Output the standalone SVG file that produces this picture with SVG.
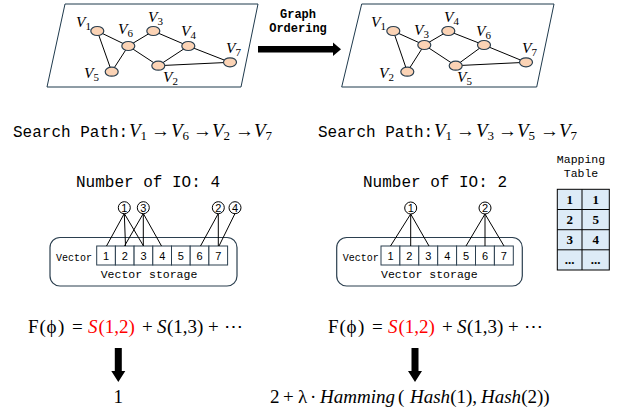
<svg xmlns="http://www.w3.org/2000/svg" width="628" height="419" viewBox="0 0 628 419">
<style>
.plane{fill:#fff;stroke:#1f3a4d;stroke-width:1}
.nd{fill:#fbd3b5;stroke:#2b3f4f;stroke-width:1.2}
.e{stroke:#000;stroke-width:1;fill:none}
.vl{font-family:"Liberation Serif",serif;font-style:italic;font-size:15.5px;fill:#000}
.sub{font-size:11px;font-style:normal}
.mono{font-family:"Liberation Mono","DejaVu Sans Mono",monospace;fill:#000}
.math{font-family:"Liberation Serif","DejaVu Serif",serif;font-size:19px;fill:#000}
.sp{font-family:"Liberation Serif","DejaVu Serif",serif;font-size:19px;fill:#000}
.ss{font-size:13px}
.it{font-style:italic}
.red{fill:#ff0000}
.cell{fill:#fff;stroke:#2b3f4f;stroke-width:1}
.cn{font-family:"Liberation Sans",Arial,sans-serif;font-size:11px;text-anchor:middle;fill:#000}
.circ{fill:#fff;stroke:#000;stroke-width:1}
.box{fill:#fff;stroke:#2b3f4f;stroke-width:1.2}
.tb{fill:#ddebf7;stroke:#000;stroke-width:1}
.tn{font-family:"Liberation Serif",serif;font-weight:bold;font-size:13px;text-anchor:middle;fill:#000}
</style>

<!-- left graph -->
<g id="graph-left">
<polygon class="plane" points="65,4 258,4 241,87 47,87"/>
<g class="e">
<line x1="97.3" y1="31" x2="128.3" y2="46"/>
<line x1="97.3" y1="31" x2="111.7" y2="71.7"/>
<line x1="111.7" y1="71.7" x2="128.3" y2="46"/>
<line x1="128.3" y1="46" x2="153.3" y2="31"/>
<line x1="128.3" y1="46" x2="158.3" y2="65.7"/>
<line x1="153.3" y1="31" x2="188.3" y2="46"/>
<line x1="188.3" y1="46" x2="158.3" y2="65.7"/>
<line x1="188.3" y1="46" x2="230" y2="62.3"/>
<line x1="158.3" y1="65.7" x2="230" y2="62.3"/>
</g>
<ellipse class="nd" cx="97.3" cy="31" rx="6.5" ry="4.5"/>
<ellipse class="nd" cx="128.3" cy="46" rx="6.5" ry="4.5"/>
<ellipse class="nd" cx="153.3" cy="31" rx="6.5" ry="4.5"/>
<ellipse class="nd" cx="188.3" cy="46" rx="6.5" ry="4.5"/>
<ellipse class="nd" cx="230" cy="62.3" rx="6.5" ry="4.5"/>
<ellipse class="nd" cx="158.3" cy="65.7" rx="6.5" ry="4.5"/>
<ellipse class="nd" cx="111.7" cy="71.7" rx="6.5" ry="4.5"/>
<text class="vl" x="76" y="27">V<tspan class="sub" dy="2.5">1</tspan></text>
<text class="vl" x="118" y="34">V<tspan class="sub" dy="2.5">6</tspan></text>
<text class="vl" x="148" y="22">V<tspan class="sub" dy="2.5">3</tspan></text>
<text class="vl" x="181" y="36">V<tspan class="sub" dy="2.5">4</tspan></text>
<text class="vl" x="226" y="53">V<tspan class="sub" dy="2.5">7</tspan></text>
<text class="vl" x="84" y="78">V<tspan class="sub" dy="2.5">5</tspan></text>
<text class="vl" x="163" y="82">V<tspan class="sub" dy="2.5">2</tspan></text>
</g>

<!-- right graph -->
<g id="graph-right">
<polygon class="plane" points="361.7,4 554,4 536.7,87 341.7,87"/>
<g class="e">
<line x1="393.3" y1="31" x2="407.3" y2="71.7"/>
<line x1="393.3" y1="31" x2="424.3" y2="45"/>
<line x1="407.3" y1="71.7" x2="424.3" y2="45"/>
<line x1="424.3" y1="45" x2="448.3" y2="31"/>
<line x1="424.3" y1="45" x2="455.7" y2="65.7"/>
<line x1="448.3" y1="31" x2="484" y2="45"/>
<line x1="484" y1="45" x2="455.7" y2="65.7"/>
<line x1="484" y1="45" x2="526" y2="62.3"/>
<line x1="455.7" y1="65.7" x2="526" y2="62.3"/>
</g>
<ellipse class="nd" cx="393.3" cy="31" rx="6.5" ry="4.5"/>
<ellipse class="nd" cx="424.3" cy="45" rx="6.5" ry="4.5"/>
<ellipse class="nd" cx="448.3" cy="31" rx="6.5" ry="4.5"/>
<ellipse class="nd" cx="484" cy="45" rx="6.5" ry="4.5"/>
<ellipse class="nd" cx="526" cy="62.3" rx="6.5" ry="4.5"/>
<ellipse class="nd" cx="455.7" cy="65.7" rx="6.5" ry="4.5"/>
<ellipse class="nd" cx="407.3" cy="71.7" rx="6.5" ry="4.5"/>
<text class="vl" x="371" y="27">V<tspan class="sub" dy="2.5">1</tspan></text>
<text class="vl" x="414" y="35">V<tspan class="sub" dy="2.5">3</tspan></text>
<text class="vl" x="444" y="22">V<tspan class="sub" dy="2.5">4</tspan></text>
<text class="vl" x="476" y="36">V<tspan class="sub" dy="2.5">6</tspan></text>
<text class="vl" x="522" y="53">V<tspan class="sub" dy="2.5">7</tspan></text>
<text class="vl" x="379" y="78">V<tspan class="sub" dy="2.5">2</tspan></text>
<text class="vl" x="457" y="82">V<tspan class="sub" dy="2.5">5</tspan></text>
</g>

<!-- graph ordering arrow -->
<g id="ordering">
<text class="mono" x="298" y="18" font-size="12" font-weight="bold" text-anchor="middle">Graph</text>
<text class="mono" x="298" y="32" font-size="12" font-weight="bold" text-anchor="middle">Ordering</text>
<rect x="258" y="46" width="76" height="6.5" fill="#000"/>
<polygon points="333,42.5 341,49.3 333,56" fill="#000"/>
</g>

<!-- search paths -->
<g id="path-left">
<text class="mono" x="13" y="137" font-size="16">Search Path:</text>
<text class="sp" y="137"><tspan class="it" x="129">V</tspan><tspan class="ss" dy="3">1</tspan><tspan x="151" dy="-3">→</tspan><tspan class="it" x="171">V</tspan><tspan class="ss" dy="3">6</tspan><tspan x="193" dy="-3">→</tspan><tspan class="it" x="212">V</tspan><tspan class="ss" dy="3">2</tspan><tspan x="235" dy="-3">→</tspan><tspan class="it" x="254">V</tspan><tspan class="ss" dy="3">7</tspan></text>
</g>
<g id="path-right">
<text class="mono" x="318" y="137" font-size="16">Search Path:</text>
<text class="sp" y="137"><tspan class="it" x="434">V</tspan><tspan class="ss" dy="3">1</tspan><tspan x="456" dy="-3">→</tspan><tspan class="it" x="476">V</tspan><tspan class="ss" dy="3">3</tspan><tspan x="498" dy="-3">→</tspan><tspan class="it" x="517">V</tspan><tspan class="ss" dy="3">5</tspan><tspan x="540" dy="-3">→</tspan><tspan class="it" x="559">V</tspan><tspan class="ss" dy="3">7</tspan></text>
</g>

<!-- left storage -->
<g id="storage-left">
<text class="mono" x="148" y="187" font-size="16" text-anchor="middle">Number of IO: 4</text>
<rect class="box" x="50" y="237.5" width="187" height="48.5" rx="10"/>
<text class="mono" x="56" y="261" font-size="10">Vector</text>
<rect class="cell" x="96.7" y="246" width="18.7" height="19"/>
<rect class="cell" x="115.4" y="246" width="18.7" height="19"/>
<rect class="cell" x="134.1" y="246" width="18.7" height="19"/>
<rect class="cell" x="152.8" y="246" width="18.7" height="19"/>
<rect class="cell" x="171.5" y="246" width="18.7" height="19"/>
<rect class="cell" x="190.2" y="246" width="18.7" height="19"/>
<rect class="cell" x="208.9" y="246" width="18.7" height="19"/>
<text class="cn" x="106" y="259.5">1</text>
<text class="cn" x="124.8" y="259.5">2</text>
<text class="cn" x="143.5" y="259.5">3</text>
<text class="cn" x="162.2" y="259.5">4</text>
<text class="cn" x="180.9" y="259.5">5</text>
<text class="cn" x="199.6" y="259.5">6</text>
<text class="cn" x="218.3" y="259.5">7</text>
<text class="mono" x="149" y="277.5" font-size="11.5" text-anchor="middle">Vector storage</text>
<g class="e">
<line x1="124.3" y1="213.5" x2="106.5" y2="246"/>
<line x1="124.3" y1="213.5" x2="125.5" y2="246"/>
<line x1="124.3" y1="213.5" x2="143.5" y2="246"/>
<line x1="143.3" y1="213.5" x2="124.5" y2="246"/>
<line x1="143.3" y1="213.5" x2="143.3" y2="246"/>
<line x1="143.3" y1="213.5" x2="161.5" y2="246"/>
<line x1="218.3" y1="213.5" x2="200.5" y2="246"/>
<line x1="218.3" y1="213.5" x2="218.3" y2="246"/>
<line x1="235" y1="213.5" x2="219" y2="246"/>
</g>
<circle class="circ" cx="124.3" cy="207.7" r="6"/>
<circle class="circ" cx="143.3" cy="207.7" r="6"/>
<circle class="circ" cx="218.3" cy="207.7" r="6"/>
<circle class="circ" cx="235" cy="207.7" r="6"/>
<text class="cn" x="124.3" y="211.5" font-size="10">1</text>
<text class="cn" x="143.3" y="211.5" font-size="10">3</text>
<text class="cn" x="218.3" y="211.5" font-size="10">2</text>
<text class="cn" x="235" y="211.5" font-size="10">4</text>
</g>

<!-- right storage -->
<g id="storage-right">
<text class="mono" x="435" y="187" font-size="16" text-anchor="middle">Number of IO: 2</text>
<rect class="box" x="336.7" y="237.5" width="185.6" height="48.5" rx="10"/>
<text class="mono" x="342.7" y="261" font-size="10">Vector</text>
<rect class="cell" x="381" y="246" width="18.9" height="19"/>
<rect class="cell" x="399.9" y="246" width="18.9" height="19"/>
<rect class="cell" x="418.8" y="246" width="18.9" height="19"/>
<rect class="cell" x="437.7" y="246" width="18.9" height="19"/>
<rect class="cell" x="456.6" y="246" width="18.9" height="19"/>
<rect class="cell" x="475.5" y="246" width="18.9" height="19"/>
<rect class="cell" x="494.4" y="246" width="18.9" height="19"/>
<text class="cn" x="390.5" y="259.5">1</text>
<text class="cn" x="409.4" y="259.5">2</text>
<text class="cn" x="428.3" y="259.5">3</text>
<text class="cn" x="447.2" y="259.5">4</text>
<text class="cn" x="466.1" y="259.5">5</text>
<text class="cn" x="485" y="259.5">6</text>
<text class="cn" x="503.9" y="259.5">7</text>
<text class="mono" x="429.3" y="277.5" font-size="11.5" text-anchor="middle">Vector storage</text>
<g class="e">
<line x1="410.7" y1="214" x2="390.5" y2="246"/>
<line x1="410.7" y1="214" x2="410.7" y2="246"/>
<line x1="410.7" y1="214" x2="429" y2="246"/>
<line x1="485" y1="214" x2="466" y2="246"/>
<line x1="485" y1="214" x2="485" y2="246"/>
<line x1="485" y1="214" x2="504" y2="246"/>
</g>
<circle class="circ" cx="410.7" cy="208" r="6"/>
<circle class="circ" cx="485" cy="208" r="6"/>
<text class="cn" x="410.7" y="211.8" font-size="10">1</text>
<text class="cn" x="485" y="211.8" font-size="10">2</text>
</g>

<!-- mapping table -->
<g id="mapping-table">
<text class="mono" x="581" y="163" font-size="11.5" text-anchor="middle">Mapping</text>
<text class="mono" x="581" y="176.5" font-size="11.5" text-anchor="middle">Table</text>
<rect class="tb" x="557.3" y="189.3" width="52" height="80.7"/>
<line class="e" x1="582" y1="189.3" x2="582" y2="270"/>
<line class="e" x1="557.3" y1="209.5" x2="609.3" y2="209.5"/>
<line class="e" x1="557.3" y1="229.7" x2="609.3" y2="229.7"/>
<line class="e" x1="557.3" y1="249.8" x2="609.3" y2="249.8"/>
<text class="tn" x="569.7" y="204">1</text>
<text class="tn" x="595.7" y="204">1</text>
<text class="tn" x="569.7" y="224.2">2</text>
<text class="tn" x="595.7" y="224.2">5</text>
<text class="tn" x="569.7" y="244.3">3</text>
<text class="tn" x="595.7" y="244.3">4</text>
<text class="tn" x="569.7" y="264">...</text>
<text class="tn" x="595.7" y="264">...</text>
</g>

<!-- formulas -->
<g id="formula-left">
<text class="math" y="333"><tspan x="28">F</tspan><tspan x="39.5">(</tspan><tspan x="46.5">ϕ</tspan><tspan x="58">)</tspan><tspan x="72">=</tspan><tspan x="88" class="it red">S</tspan><tspan x="98.5" class="red">(1,2)</tspan><tspan x="142">+</tspan><tspan x="157" class="it">S</tspan><tspan x="167">(1,3)</tspan><tspan x="208">+</tspan><tspan x="224">⋯</tspan></text>
<polygon points="114.8,348 121.8,348 121.8,371 125.3,371 118.3,382 111.3,371 114.8,371" fill="#000"/>
<text class="math" x="118.3" y="403" text-anchor="middle">1</text>
</g>
<g id="formula-right">
<text class="math" y="333"><tspan x="328">F</tspan><tspan x="339.5">(</tspan><tspan x="346.5">ϕ</tspan><tspan x="358">)</tspan><tspan x="372">=</tspan><tspan x="388" class="it red">S</tspan><tspan x="398.5" class="red">(1,2)</tspan><tspan x="442">+</tspan><tspan x="457" class="it">S</tspan><tspan x="467">(1,3)</tspan><tspan x="508">+</tspan><tspan x="524">⋯</tspan></text>
<polygon points="411.5,348 418.5,348 418.5,371 422,371 415,382 408,371 411.5,371" fill="#000"/>
<text class="math" y="403"><tspan x="270">2</tspan><tspan x="283">+</tspan><tspan x="298">λ</tspan><tspan x="310">·</tspan><tspan x="320" class="it">Hamming</tspan><tspan x="398">(</tspan><tspan x="410" class="it">Hash</tspan><tspan>(1),</tspan><tspan x="481" class="it">Hash</tspan><tspan>(2))</tspan></text>
</g>
</svg>
